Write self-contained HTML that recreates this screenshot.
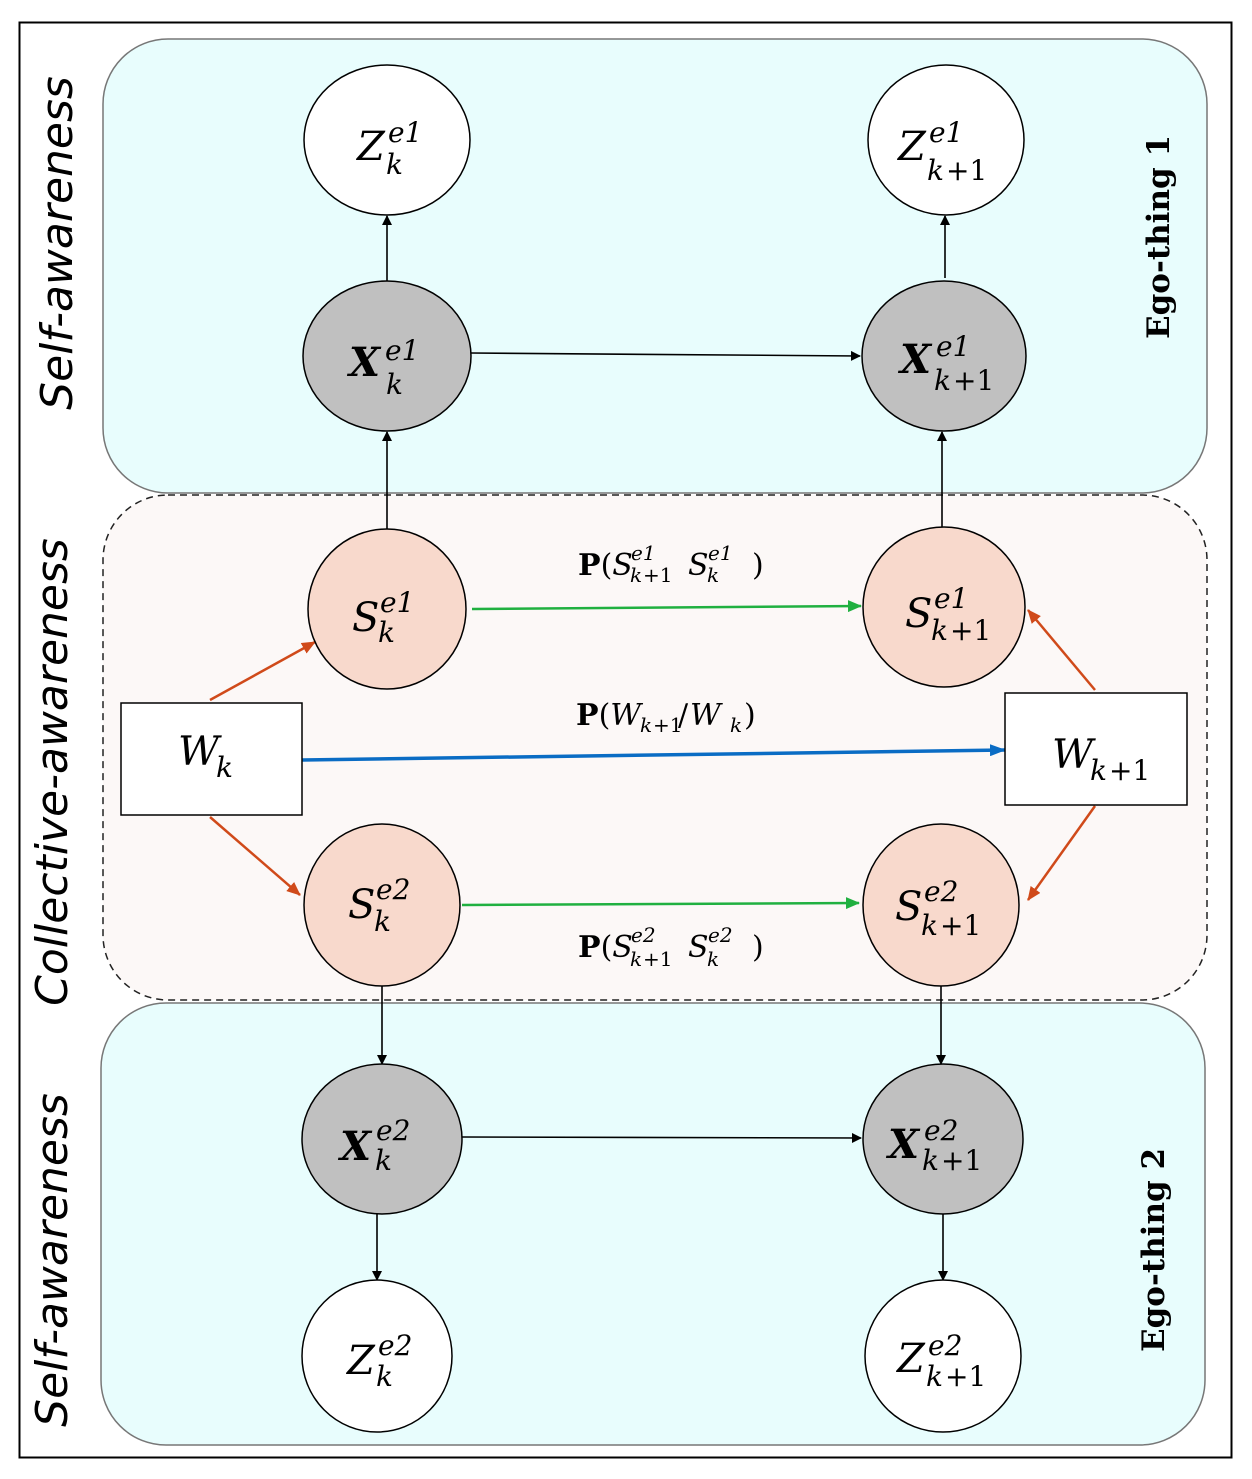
<!DOCTYPE html>
<html><head><meta charset="utf-8"><style>
body{margin:0;background:#fff}
svg{display:block}
.m{font-family:"DejaVu Serif","Liberation Serif",serif;font-style:italic}
</style></head><body>
<svg width="1252" height="1479" viewBox="0 0 1252 1479" xmlns="http://www.w3.org/2000/svg">
<defs>
<marker id="ak" markerWidth="10" markerHeight="10" refX="9" refY="5" orient="auto" markerUnits="userSpaceOnUse"><path d="M0,0 L10,5 L0,10z" fill="#000"/></marker>
<marker id="ao" markerWidth="14" markerHeight="12" refX="13" refY="6" orient="auto" markerUnits="userSpaceOnUse"><path d="M0,0 L14,6 L0,12z" fill="#d04a1a"/></marker>
<marker id="ab" markerWidth="16" markerHeight="12" refX="15" refY="6" orient="auto" markerUnits="userSpaceOnUse"><path d="M0,0 L16,6 L0,12z" fill="#0a6cc4"/></marker>
<marker id="ag" markerWidth="14" markerHeight="12" refX="13" refY="6" orient="auto" markerUnits="userSpaceOnUse"><path d="M0,0 L14,6 L0,12z" fill="#20b040"/></marker>
</defs>
<rect x="19.5" y="22.5" width="1212" height="1435" fill="#fff" stroke="#000" stroke-width="2"/>
<rect x="103" y="39" width="1104" height="454" rx="65" fill="#e8fdfd" stroke="#777" stroke-width="1.5"/>
<rect x="101" y="1003" width="1104" height="442" rx="65" fill="#e8fdfd" stroke="#777" stroke-width="1.5"/>
<rect x="103" y="495" width="1104" height="505" rx="65" fill="#fcf8f7" stroke="#222" stroke-width="1.5" stroke-dasharray="7,5"/>

<g font-family="DejaVu Sans, Liberation Sans, sans-serif" font-style="italic" font-size="44" fill="#000">
<text transform="translate(72,243) rotate(-90)" text-anchor="middle">Self-awareness</text>
<text transform="translate(67,772) rotate(-90)" text-anchor="middle">Collective-awareness</text>
<text transform="translate(67,1260) rotate(-90)" text-anchor="middle">Self-awareness</text>
</g>
<g font-family="DejaVu Serif, Liberation Serif, serif" font-weight="bold" font-size="31" fill="#000">
<text transform="translate(1169,237) rotate(-90)" text-anchor="middle">Ego-thing 1</text>
<text transform="translate(1164,1250) rotate(-90)" text-anchor="middle">Ego-thing 2</text>
</g>

<g stroke="#000" stroke-width="1.6" fill="none">
<line x1="387" y1="281" x2="387" y2="216" marker-end="url(#ak)"/>
<line x1="945" y1="278" x2="945" y2="216" marker-end="url(#ak)"/>
<line x1="387" y1="529" x2="387" y2="432" marker-end="url(#ak)"/>
<line x1="942" y1="527" x2="942" y2="432" marker-end="url(#ak)"/>
<line x1="471" y1="353" x2="860" y2="356" marker-end="url(#ak)"/>
<line x1="382" y1="986" x2="382" y2="1064" marker-end="url(#ak)"/>
<line x1="941" y1="986" x2="941" y2="1064" marker-end="url(#ak)"/>
<line x1="462" y1="1137" x2="861" y2="1138" marker-end="url(#ak)"/>
<line x1="377" y1="1214" x2="377" y2="1280" marker-end="url(#ak)"/>
<line x1="943" y1="1214" x2="943" y2="1280" marker-end="url(#ak)"/>
</g>
<g stroke-width="2.5" fill="none">
<line x1="210" y1="700" x2="315" y2="642" stroke="#d04a1a" marker-end="url(#ao)"/>
<line x1="210" y1="817" x2="300" y2="895" stroke="#d04a1a" marker-end="url(#ao)"/>
<line x1="1095" y1="690" x2="1028" y2="610" stroke="#d04a1a" marker-end="url(#ao)"/>
<line x1="1095" y1="806" x2="1028" y2="900" stroke="#d04a1a" marker-end="url(#ao)"/>
<line x1="472" y1="609" x2="861" y2="606" stroke="#20b040" marker-end="url(#ag)"/>
<line x1="462" y1="905" x2="859" y2="903" stroke="#20b040" marker-end="url(#ag)"/>
<line x1="302" y1="760" x2="1005" y2="750" stroke="#0a6cc4" stroke-width="3.5" marker-end="url(#ab)"/>
</g>

<g stroke="#000" stroke-width="1.5">
<ellipse cx="387" cy="140" rx="83" ry="75" fill="#fff"/>
<ellipse cx="946" cy="140" rx="78" ry="75" fill="#fff"/>
<ellipse cx="387" cy="356" rx="84" ry="75" fill="#c0c0c0"/>
<ellipse cx="944" cy="356" rx="82" ry="75" fill="#c0c0c0"/>
<ellipse cx="387" cy="609" rx="79" ry="80" fill="#f8d9cc"/>
<ellipse cx="944" cy="607" rx="81" ry="80" fill="#f8d9cc"/>
<ellipse cx="382" cy="905" rx="78" ry="81" fill="#f8d9cc"/>
<ellipse cx="941" cy="905" rx="78" ry="81" fill="#f8d9cc"/>
<ellipse cx="382" cy="1139" rx="80" ry="75" fill="#c0c0c0"/>
<ellipse cx="943" cy="1139" rx="80" ry="75" fill="#c0c0c0"/>
<ellipse cx="377" cy="1356" rx="75" ry="76" fill="#fff"/>
<ellipse cx="943" cy="1356" rx="78" ry="76" fill="#fff"/>
<rect x="121" y="703" width="181" height="112" fill="#fff"/>
<rect x="1005" y="693" width="182" height="112" fill="#fff"/>
</g>

<g class="m" fill="#000" font-size="40">
<text x="357" y="160">Z</text><text x="388" y="142" font-size="28">e1</text><text x="386" y="174" font-size="28">k</text>
<text x="898" y="160">Z</text><text x="929" y="142" font-size="28">e1</text><text x="927" y="180" font-size="28">k</text><text x="946" y="180" font-size="28" font-style="normal">+1</text>
<text x="349" y="376" font-weight="bold">X</text><text x="385" y="360" font-size="28">e1</text><text x="386" y="394" font-size="28">k</text>
<text x="900" y="373" font-weight="bold">X</text><text x="936" y="356" font-size="28">e1</text><text x="934" y="390" font-size="28">k</text><text x="953" y="390" font-size="28" font-style="normal">+1</text>
<text x="352" y="631">S</text><text x="380" y="612" font-size="28">e1</text><text x="378" y="642" font-size="28">k</text>
<text x="905" y="627">S</text><text x="934" y="608" font-size="28">e1</text><text x="931" y="640" font-size="28">k</text><text x="950" y="640" font-size="28" font-style="normal">+1</text>
<text x="348" y="918">S</text><text x="376" y="899" font-size="28">e2</text><text x="374" y="931" font-size="28">k</text>
<text x="895" y="920">S</text><text x="924" y="901" font-size="28">e2</text><text x="921" y="935" font-size="28">k</text><text x="940" y="935" font-size="28" font-style="normal">+1</text>
<text x="340" y="1160" font-weight="bold">X</text><text x="376" y="1140" font-size="28">e2</text><text x="375" y="1170" font-size="28">k</text>
<text x="888" y="1158" font-weight="bold">X</text><text x="924" y="1140" font-size="28">e2</text><text x="922" y="1170" font-size="28">k</text><text x="941" y="1170" font-size="28" font-style="normal">+1</text>
<text x="347" y="1374">Z</text><text x="378" y="1355" font-size="28">e2</text><text x="376" y="1386" font-size="28">k</text>
<text x="897" y="1372">Z</text><text x="928" y="1355" font-size="28">e2</text><text x="926" y="1386" font-size="28">k</text><text x="945" y="1386" font-size="28" font-style="normal">+1</text>
<text x="178" y="765">W</text><text x="216" y="777" font-size="28">k</text>
<text x="1052" y="768">W</text><text x="1090" y="780" font-size="28">k</text><text x="1109" y="780" font-size="28" font-style="normal">+1</text>
</g>
<g class="m" fill="#000" font-size="30">
<text x="578" y="575"><tspan font-style="normal" font-weight="bold">P</tspan><tspan font-style="normal">(</tspan>S</text>
<text x="631" y="560" font-size="20">e1</text><text x="630" y="582" font-size="20">k</text><text x="643" y="582" font-size="20" font-style="normal">+1</text>
<text x="688" y="575">S</text><text x="708" y="560" font-size="20">e1</text><text x="707" y="582" font-size="20">k</text>
<text x="752" y="575" font-style="normal">)</text>
<text x="576" y="725"><tspan font-style="normal" font-weight="bold">P</tspan><tspan font-style="normal">(</tspan>W</text>
<text x="640" y="732" font-size="20">k</text><text x="653" y="732" font-size="20" font-style="normal">+1</text>
<text x="678" y="725" font-style="normal">/</text><text x="690" y="725">W</text><text x="730" y="732" font-size="20">k</text>
<text x="744" y="725" font-style="normal">)</text>
<text x="578" y="957"><tspan font-style="normal" font-weight="bold">P</tspan><tspan font-style="normal">(</tspan>S</text>
<text x="631" y="942" font-size="20">e2</text><text x="630" y="966" font-size="20">k</text><text x="643" y="966" font-size="20" font-style="normal">+1</text>
<text x="688" y="957">S</text><text x="708" y="942" font-size="20">e2</text><text x="707" y="966" font-size="20">k</text>
<text x="752" y="957" font-style="normal">)</text>
</g>
</svg>
</body></html>
